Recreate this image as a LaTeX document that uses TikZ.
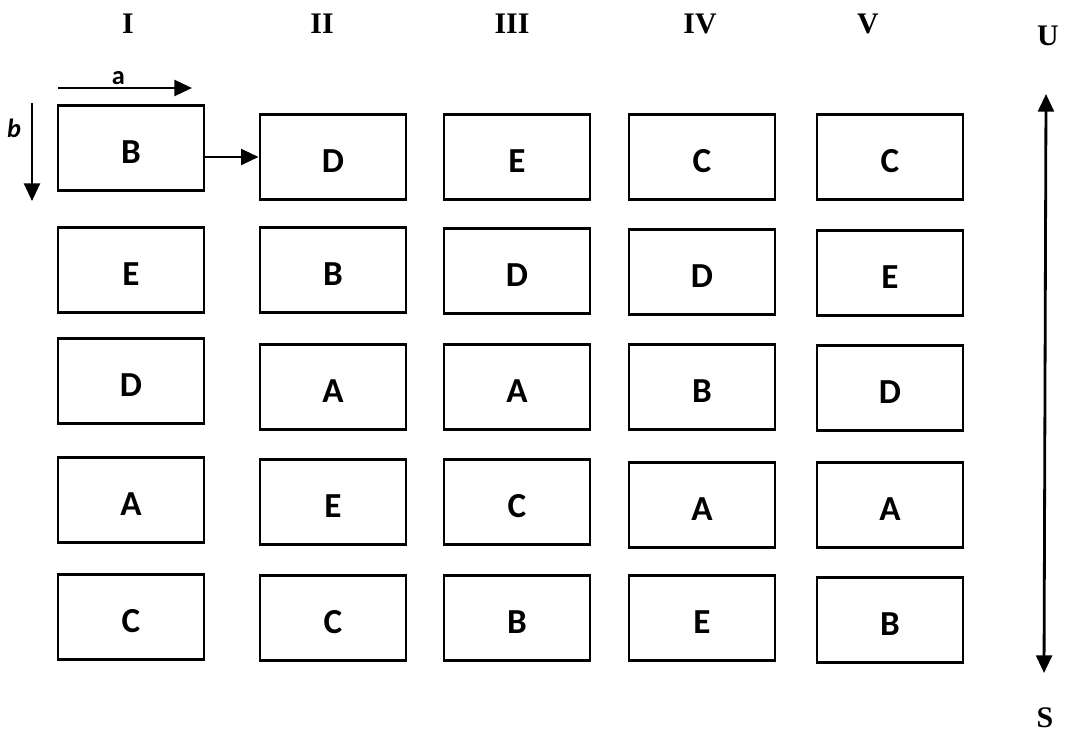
\documentclass[tikz,border=0pt]{standalone}
\usepackage{fontspec}
\setmainfont{Liberation Serif}
\newfontfamily\boxfont{Carlito}
\usetikzlibrary{arrows.meta}

\tikzset{
    plot/.style={draw, line width=1.6pt, minimum width=2.92cm, minimum height=1.7cm,
        text height=18pt, text depth=0pt,
        font=\boxfont\bfseries\fontsize{20}{20}\selectfont},
    colhead/.style={font=\bfseries\fontsize{17}{17}\selectfont},
    dirarrow/.style={line width=1.6pt, -{Triangle[length=10pt, width=9pt]}}
}

\begin{document}
\begin{tikzpicture}[x=0.02cm, y=-0.02cm]
    \useasboundingbox (0, 0) rectangle (1070, 749);

    % Column headings
    \node[colhead] (hI) at (128, 24) {I};
    \node[colhead] (hII) at (322, 24) {II};
    \node[colhead] (hIII) at (512, 24) {III};
    \node[colhead] (hIV) at (700, 24) {IV};
    \node[colhead] (hV) at (868, 24) {V};
    \node[colhead] (U) at (1048, 36) {U};
    \node[colhead] (S) at (1045, 718) {S};

    % Column I
    \node[plot] (I1) at (131, 148) {B};
    \node[plot] (I2) at (131, 270) {E};
    \node[plot] (I3) at (131, 381) {D};
    \node[plot] (I4) at (131, 500) {A};
    \node[plot] (I5) at (131, 617) {C};

    % Column II
    \node[plot] (II1) at (333, 157) {D};
    \node[plot] (II2) at (333, 270) {B};
    \node[plot] (II3) at (333, 387) {A};
    \node[plot] (II4) at (333, 502) {E};
    \node[plot] (II5) at (333, 618) {C};

    % Column III
    \node[plot] (III1) at (517, 157) {E};
    \node[plot] (III2) at (517, 271) {D};
    \node[plot] (III3) at (517, 387) {A};
    \node[plot] (III4) at (517, 502) {C};
    \node[plot] (III5) at (517, 618) {B};

    % Column IV
    \node[plot] (IV1) at (702, 157) {C};
    \node[plot] (IV2) at (702, 272) {D};
    \node[plot] (IV3) at (702, 387) {B};
    \node[plot] (IV4) at (702, 505) {A};
    \node[plot] (IV5) at (702, 618) {E};

    % Column V
    \node[plot] (V1) at (890, 157) {C};
    \node[plot] (V2) at (890, 273) {E};
    \node[plot] (V3) at (890, 388) {D};
    \node[plot] (V4) at (890, 505) {A};
    \node[plot] (V5) at (890, 620) {B};

    % Directions a and b
    \coordinate (a0) at (58, 88);
    \coordinate (a1) at (192, 88);
    \coordinate (b0) at (32, 103);
    \coordinate (b1) at (32, 201);
    \draw[dirarrow] (a0) -- node[above, pos=0.45, inner sep=1pt, font=\boxfont\bfseries\fontsize{15}{15}\selectfont] (la) {a} (a1);
    \draw[dirarrow] (b0) -- (b1);
    \node[font=\boxfont\bfseries\itshape\fontsize{15}{15}\selectfont] (lb) at (14, 128) {b};

    % Connections
    \draw[dirarrow] (I1.east |- II1) -- (II1.west);

    % Gradient U to S
    \coordinate (u0) at (1046, 94);
    \coordinate (s0) at (1044, 673);
    \draw[dirarrow, {Triangle[length=10pt, width=9pt]}-{Triangle[length=10pt, width=9pt]}] (u0) -- (s0);

\end{tikzpicture}
\end{document}
